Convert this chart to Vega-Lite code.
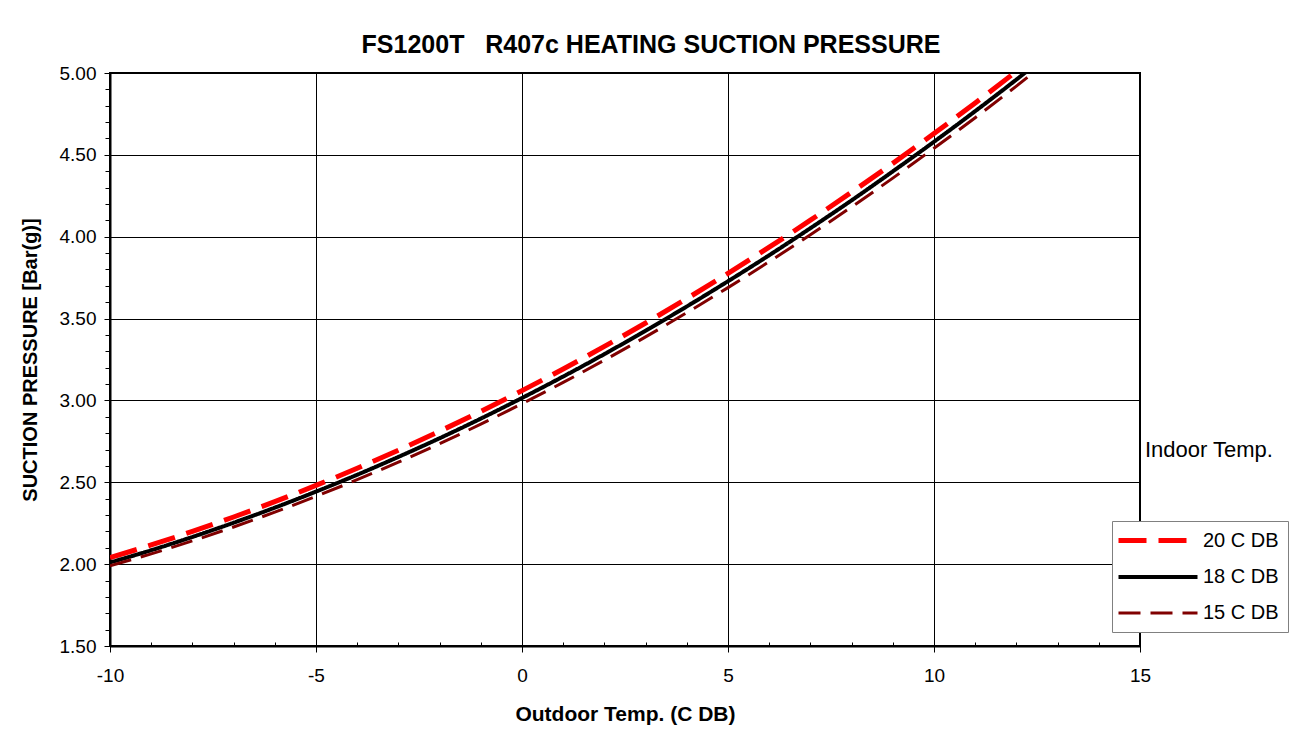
{
  "$schema": "https://vega.github.io/schema/vega-lite/v6.json",
  "width": 1030,
  "height": 573,
  "autosize": "none",
  "padding": {"left": 110, "top": 73, "right": 162, "bottom": 85},
  "background": "white",
  "title": {"text": "FS1200T\u00a0\u00a0 R407c HEATING SUCTION PRESSURE", "fontSize": 25, "font": "Liberation Sans", "fontWeight": "bold", "anchor": "middle", "dx": 26, "offset": 6, "color": "black"},
  "config": {"view": {"stroke": "black", "strokeWidth": 2}, "font": "Liberation Sans"},
  "data": {"values": [
    {"t": -10, "p": 2.04, "s": "20 C DB"}, {"t": -9, "p": 2.117, "s": "20 C DB"}, {"t": -8, "p": 2.2, "s": "20 C DB"}, {"t": -7, "p": 2.288, "s": "20 C DB"}, {"t": -6, "p": 2.382, "s": "20 C DB"}, {"t": -5, "p": 2.481, "s": "20 C DB"}, {"t": -4, "p": 2.586, "s": "20 C DB"}, {"t": -3, "p": 2.696, "s": "20 C DB"}, {"t": -2, "p": 2.812, "s": "20 C DB"}, {"t": -1, "p": 2.933, "s": "20 C DB"}, {"t": 0, "p": 3.06, "s": "20 C DB"}, {"t": 1, "p": 3.192, "s": "20 C DB"}, {"t": 2, "p": 3.33, "s": "20 C DB"}, {"t": 3, "p": 3.473, "s": "20 C DB"}, {"t": 4, "p": 3.622, "s": "20 C DB"}, {"t": 5, "p": 3.776, "s": "20 C DB"}, {"t": 6, "p": 3.936, "s": "20 C DB"}, {"t": 7, "p": 4.101, "s": "20 C DB"}, {"t": 8, "p": 4.272, "s": "20 C DB"}, {"t": 9, "p": 4.448, "s": "20 C DB"}, {"t": 10, "p": 4.63, "s": "20 C DB"}, {"t": 11, "p": 4.817, "s": "20 C DB"}, {"t": 12, "p": 5.01, "s": "20 C DB"},
    {"t": -10, "p": 2.01, "s": "18 C DB"}, {"t": -9, "p": 2.085, "s": "18 C DB"}, {"t": -8, "p": 2.166, "s": "18 C DB"}, {"t": -7, "p": 2.253, "s": "18 C DB"}, {"t": -6, "p": 2.345, "s": "18 C DB"}, {"t": -5, "p": 2.443, "s": "18 C DB"}, {"t": -4, "p": 2.546, "s": "18 C DB"}, {"t": -3, "p": 2.655, "s": "18 C DB"}, {"t": -2, "p": 2.769, "s": "18 C DB"}, {"t": -1, "p": 2.889, "s": "18 C DB"}, {"t": 0, "p": 3.015, "s": "18 C DB"}, {"t": 1, "p": 3.146, "s": "18 C DB"}, {"t": 2, "p": 3.283, "s": "18 C DB"}, {"t": 3, "p": 3.426, "s": "18 C DB"}, {"t": 4, "p": 3.574, "s": "18 C DB"}, {"t": 5, "p": 3.728, "s": "18 C DB"}, {"t": 6, "p": 3.887, "s": "18 C DB"}, {"t": 7, "p": 4.052, "s": "18 C DB"}, {"t": 8, "p": 4.222, "s": "18 C DB"}, {"t": 9, "p": 4.399, "s": "18 C DB"}, {"t": 10, "p": 4.58, "s": "18 C DB"}, {"t": 11, "p": 4.767, "s": "18 C DB"}, {"t": 12, "p": 4.96, "s": "18 C DB"}, {"t": 12.5, "p": 5.06, "s": "18 C DB"},
    {"t": -10, "p": 1.99, "s": "15 C DB"}, {"t": -9, "p": 2.063, "s": "15 C DB"}, {"t": -8, "p": 2.142, "s": "15 C DB"}, {"t": -7, "p": 2.227, "s": "15 C DB"}, {"t": -6, "p": 2.318, "s": "15 C DB"}, {"t": -5, "p": 2.414, "s": "15 C DB"}, {"t": -4, "p": 2.516, "s": "15 C DB"}, {"t": -3, "p": 2.623, "s": "15 C DB"}, {"t": -2, "p": 2.736, "s": "15 C DB"}, {"t": -1, "p": 2.855, "s": "15 C DB"}, {"t": 0, "p": 2.98, "s": "15 C DB"}, {"t": 1, "p": 3.11, "s": "15 C DB"}, {"t": 2, "p": 3.246, "s": "15 C DB"}, {"t": 3, "p": 3.388, "s": "15 C DB"}, {"t": 4, "p": 3.536, "s": "15 C DB"}, {"t": 5, "p": 3.689, "s": "15 C DB"}, {"t": 6, "p": 3.848, "s": "15 C DB"}, {"t": 7, "p": 4.012, "s": "15 C DB"}, {"t": 8, "p": 4.182, "s": "15 C DB"}, {"t": 9, "p": 4.358, "s": "15 C DB"}, {"t": 10, "p": 4.54, "s": "15 C DB"}, {"t": 11, "p": 4.727, "s": "15 C DB"}, {"t": 12, "p": 4.92, "s": "15 C DB"}, {"t": 12.6, "p": 5.04, "s": "15 C DB"}
  ]},
  "layer": [
    {
      "mark": {"type": "line", "clip": true, "interpolate": "monotone"},
      "encoding": {
        "x": {"field": "t", "type": "quantitative", "scale": {"domain": [-10, 15], "nice": false},
          "axis": {"values": [-10, -5, 0, 5, 10, 15], "labelExpr": "'' + datum.value", "labelFlush": false, "labelOverlap": false, "title": "Outdoor Temp. (C DB)", "titleFontSize": 21, "titleFontWeight": "bold", "titleColor": "black", "titlePadding": 18,
            "labelFontSize": 19, "labelColor": "black", "labelPadding": 14, "tickColor": "black", "tickSize": 6, "domainColor": "black", "domainWidth": 2,
            "grid": true, "gridColor": "black", "gridOpacity": 1, "gridWidth": 1}},
        "y": {"field": "p", "type": "quantitative", "scale": {"domain": [1.5, 5], "nice": false},
          "axis": {"values": [1.5, 2, 2.5, 3, 3.5, 4, 4.5, 5], "format": ".2f", "title": "SUCTION PRESSURE [Bar(g)]", "titleFontSize": 20, "titleFontWeight": "bold", "titleColor": "black", "titlePadding": 19,
            "labelFontSize": 19, "labelColor": "black", "labelPadding": 8, "tickColor": "black", "tickSize": 6, "domainColor": "black", "domainWidth": 2,
            "grid": true, "gridColor": "black", "gridOpacity": 1, "gridWidth": 1}},
        "color": {"field": "s", "type": "nominal", "scale": {"domain": ["20 C DB", "18 C DB", "15 C DB"], "range": ["#ff0000", "#000000", "#800000"]},
          "legend": {"orient": "none", "legendX": 1002, "legendY": 448, "title": null, "fillColor": "white", "strokeColor": "#808080", "padding": 9,
            "labelFontSize": 20, "labelColor": "black", "symbolType": "M-1.625,0H8.25", "symbolSize": 256, "symbolStrokeWidth": 4, "rowPadding": 16, "labelOffset": 61}},
        "strokeDash": {"field": "s", "type": "nominal", "scale": {"domain": ["20 C DB", "18 C DB", "15 C DB"], "range": [[28, 12], [1, 0], [22, 10]]}},
        "strokeWidth": {"field": "s", "type": "nominal", "scale": {"domain": ["20 C DB", "18 C DB", "15 C DB"], "range": [5, 3, 4]}, "legend": null}
      }
    },
    {
      "data": {"values": [{"t": 15.12, "p": 2.7, "label": "Indoor Temp."}]},
      "mark": {"type": "text", "align": "left", "baseline": "middle", "fontSize": 22, "color": "black"},
      "encoding": {
        "x": {"field": "t", "type": "quantitative", "axis": {"values": [-9, -8, -7, -6, -4, -3, -2, -1, 1, 2, 3, 4, 6, 7, 8, 9, 11, 12, 13, 14], "labels": false, "domain": false, "grid": false, "title": null, "tickSize": -4, "tickColor": "black", "orient": "bottom"}},
        "y": {"field": "p", "type": "quantitative", "axis": {"values": [1.6, 1.7, 1.8, 1.9, 2.1, 2.2, 2.3, 2.4, 2.6, 2.7, 2.8, 2.9, 3.1, 3.2, 3.3, 3.4, 3.6, 3.7, 3.8, 3.9, 4.1, 4.2, 4.3, 4.4, 4.6, 4.7, 4.8, 4.9], "labels": false, "domain": false, "grid": false, "title": null, "tickSize": 5, "tickColor": "black", "orient": "left"}},
        "text": {"field": "label", "type": "nominal"}
      }
    }
  ],
  "resolve": {"axis": {"x": "independent", "y": "independent"}}
}
